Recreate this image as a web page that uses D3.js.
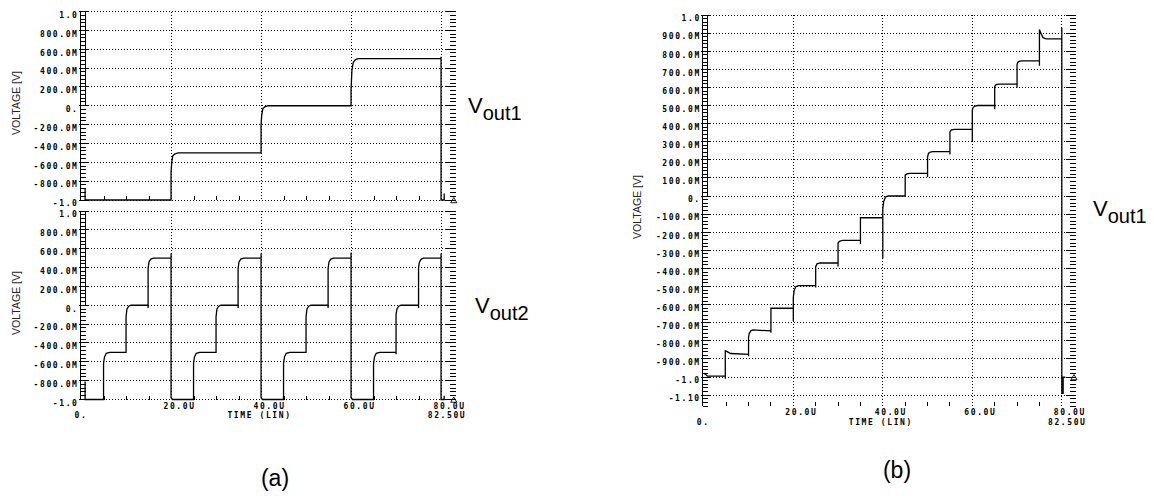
<!DOCTYPE html>
<html>
<head>
<meta charset="utf-8">
<script src="https://cdn.jsdelivr.net/npm/d3@7/dist/d3.min.js"></script>
<style>
  body { margin: 0; background: #fff; }
  svg { display: block; }
</style>
</head>
<body>
<div id="chart"></div>
<script>

// axis values and labels
const yTicksA = [1.0, 0.8, 0.6, 0.4, 0.2, 0, -0.2, -0.4, -0.6, -0.8, -1.0]
const yLabelsA = ['1.0', '800.0M', '600.0M', '400.0M', '200.0M', '0.', '-200.0M', '-400.0M', '-600.0M', '-800.0M', '-1.0']
const yTicksB = [1.0, 0.9, 0.8, 0.7, 0.6, 0.5, 0.4, 0.3, 0.2, 0.1, 0, -0.1, -0.2, -0.3, -0.4, -0.5, -0.6, -0.7, -0.8, -0.9, -1.0, -1.1]
const yLabelsB = ['1.0', '900.0M', '800.0M', '700.0M', '600.0M', '500.0M', '400.0M', '300.0M', '200.0M', '100.0M', '0.',
  '-100.0M', '-200.0M', '-300.0M', '-400.0M', '-500.0M', '-600.0M', '-700.0M', '-800.0M', '-900.0M', '-1.0', '-1.10']
const xTicks = [20, 40, 60, 80]
const xLabels = ['20.0U', '40.0U', '60.0U', '80.0U']
const xMinor = [5, 10, 15, 25, 30, 35, 45, 50, 55, 65, 70, 75]

// (a) Vout1 : time [us], voltage [V]
const vout1A = [
  [0.8, -0.88], [0.8, -1.0], [19.9, -1.0], [19.9, -0.7], [20.05, -0.6], [20.3, -0.53], [20.8, -0.51], [21.5, -0.5],
  [39.9, -0.5], [39.9, -0.2], [40.05, -0.1], [40.3, -0.03], [40.8, -0.01], [41.5, 0],
  [59.9, 0], [59.9, 0.17], [60.1, 0.38], [60.4, 0.46], [60.9, 0.49], [61.5, 0.5],
  [79.9, 0.5], [79.9, 0.52], [79.9, -1.0], [80.6, -1.0], [80.6, -0.93]
]

// (a) Vout2
const vout2A = [
  [0.8, -0.81], [0.8, -1.0], [4.9, -1.0], [4.9, -0.62], [5.1, -0.55], [5.5, -0.51], [6.3, -0.5],
  [9.9, -0.5], [9.9, -0.12], [10.1, -0.04], [10.5, -0.01], [11, 0],
  [14.8, 0], [14.8, -0.03], [14.8, 0.39], [15, 0.46], [15.4, 0.49], [16, 0.5],
  [19.9, 0.5], [19.9, 0.55], [19.9, -0.98], [20.2, -1.0],
  [24.9, -1.0], [24.9, -0.62], [25.1, -0.55], [25.5, -0.51], [26.3, -0.5],
  [29.9, -0.5], [29.9, -0.12], [30.1, -0.04], [30.5, -0.01], [31, 0],
  [34.8, 0], [34.8, -0.03], [34.8, 0.39], [35, 0.46], [35.4, 0.49], [36, 0.5],
  [39.9, 0.5], [39.9, 0.55], [39.9, -0.98], [40.2, -1.0],
  [44.9, -1.0], [44.9, -0.62], [45.1, -0.55], [45.5, -0.51], [46.3, -0.5],
  [49.9, -0.5], [49.9, -0.12], [50.1, -0.04], [50.5, -0.01], [51, 0],
  [54.8, 0], [54.8, -0.03], [54.8, 0.39], [55, 0.46], [55.4, 0.49], [56, 0.5],
  [59.9, 0.5], [59.9, 0.56], [59.9, -0.98], [60.2, -1.0],
  [64.9, -1.0], [64.9, -0.62], [65.1, -0.55], [65.5, -0.51], [66.3, -0.5],
  [69.9, -0.5], [69.9, -0.52], [69.9, -0.1], [70.1, -0.04], [70.5, -0.01], [71, 0],
  [74.9, 0], [74.9, -0.03], [74.9, 0.4], [75.1, 0.46], [75.5, 0.49], [76, 0.5],
  [79.9, 0.5], [79.9, 0.55], [79.9, -1.0], [80.6, -1.0], [80.6, -0.96]
]

// (b) Vout1 staircase
const vout1B = [
  [0, -0.98], [0.4, -0.985], [0.8, -0.995], [4.8, -0.995],
  [4.8, -1.01], [4.8, -0.855], [5.2, -0.86], [6, -0.87], [10, -0.875],
  [10, -0.885], [10, -0.78], [10.15, -0.76], [10.5, -0.745], [11, -0.74], [15, -0.745],
  [15, -0.755], [15, -0.62], [20, -0.62],
  [20, -0.69], [20, -0.56], [20.2, -0.52], [20.6, -0.5], [21.2, -0.495], [25, -0.495],
  [25, -0.505], [25, -0.39], [25.3, -0.375], [26, -0.37], [30, -0.37],
  [30, -0.39], [30, -0.26], [30.3, -0.25], [31, -0.245], [35, -0.245],
  [35, -0.265], [35, -0.12], [40, -0.12],
  [40, -0.345], [40, -0.07], [40.2, -0.03], [40.6, -0.005], [41.2, 0], [45, 0],
  [45, 0.115], [45.4, 0.122], [46, 0.125], [50, 0.125],
  [50, 0.105], [50, 0.215], [50.2, 0.235], [50.6, 0.243], [51.2, 0.245], [55, 0.245],
  [55, 0.23], [55, 0.355], [55.3, 0.365], [56, 0.368], [60, 0.368],
  [60, 0.3], [60, 0.475], [60.2, 0.49], [60.6, 0.497], [61.2, 0.5], [65, 0.5],
  [65, 0.48], [65, 0.605], [65.3, 0.615], [66, 0.618], [70, 0.618],
  [70, 0.6], [70, 0.727], [70.2, 0.74], [70.6, 0.745], [71.2, 0.747], [75, 0.747],
  [75, 0.72], [75, 0.92], [75.3, 0.9], [75.8, 0.875], [76.5, 0.868], [80, 0.868],
  [80, 0.93], [80, -1.09], [80.3, -1.09], [80.3, -1.0], [80.8, -1.0]
]

const tickFont = "bold 8px 'DejaVu Sans Mono', monospace"

const svg = d3.select('#chart')
  .append('svg')
  .attr('width', 1154)
  .attr('height', 496)

const drawPanel = (cfg) => {
  const { x, y, yTicks, yLabels, series, rulerStep, showX } = cfg
  const g = svg.append('g')
  const [yMin, yMax] = y.domain()
  const x0 = x(0), xr = x(82.5)
  const top = y(yMax), bottom = y(yMin)

  // dotted grid
  g.selectAll('.hgrid')
    .data(yTicks)
    .enter().append('line')
      .attr('x1', x0).attr('x2', xr)
      .attr('y1', d => y(d)).attr('y2', d => y(d))
      .attr('stroke', '#000')
      .attr('stroke-dasharray', '1,2')
      .attr('shape-rendering', 'crispEdges')

  g.selectAll('.vgrid')
    .data(xTicks)
    .enter().append('line')
      .attr('x1', d => x(d)).attr('x2', d => x(d))
      .attr('y1', top).attr('y2', bottom)
      .attr('stroke', '#000')
      .attr('stroke-dasharray', '1,2')
      .attr('shape-rendering', 'crispEdges')

  // bottom minor ticks
  g.selectAll('.xminor')
    .data(xMinor)
    .enter().append('line')
      .attr('x1', d => x(d)).attr('x2', d => x(d))
      .attr('y1', bottom - 4).attr('y2', bottom)
      .attr('stroke', '#000')
      .attr('shape-rendering', 'crispEdges')

  // left ruler
  const minor = d3.range(Math.round(yMin / rulerStep), Math.round(yMax / rulerStep) + 1)
    .map(i => i * rulerStep)
  const ruler = g.append('g')
    .attr('stroke', '#000')
    .attr('shape-rendering', 'crispEdges')
  ruler.append('line')
    .attr('x1', x0 - 1).attr('x2', x0 - 1)
    .attr('y1', top).attr('y2', bottom)
  ruler.append('line')
    .attr('x1', x0 + 4).attr('x2', x0 + 4)
    .attr('y1', top).attr('y2', y(0))
  ruler.selectAll('.rung')
    .data(minor)
    .enter().append('line')
      .attr('x1', x0 - 1).attr('x2', x0 + 4)
      .attr('y1', d => y(d)).attr('y2', d => y(d))
  ruler.selectAll('.major')
    .data(yTicks)
    .enter().append('line')
      .attr('x1', x0 - 3).attr('x2', x0 + 6)
      .attr('y1', d => y(d)).attr('y2', d => y(d))

  // right ruler
  const rruler = g.append('g')
    .attr('stroke', '#000')
    .attr('shape-rendering', 'crispEdges')
  rruler.selectAll('.rminor')
    .data(minor)
    .enter().append('line')
      .attr('x1', xr - 3).attr('x2', xr + 3)
      .attr('y1', d => y(d)).attr('y2', d => y(d))
  rruler.selectAll('.rmajor')
    .data(yTicks)
    .enter().append('line')
      .attr('x1', xr - 7).attr('x2', xr + 3)
      .attr('y1', d => y(d)).attr('y2', d => y(d))

  // y tick labels
  g.selectAll('.ylab')
    .data(yTicks)
    .enter().append('text')
      .attr('x', x0 - 3)
      .attr('y', d => y(d) + 6.3)
      .attr('text-anchor', 'end')
      .style('font', tickFont)
      .style('letter-spacing', '1.6px')
      .text((d, i) => yLabels[i])

  // signal
  const line = d3.line()
    .x(d => x(d[0]))
    .y(d => y(d[1]))
  g.append('path')
    .datum(series)
    .attr('d', line)
    .attr('fill', 'none')
    .attr('stroke', '#000')
    .attr('stroke-width', 1.3)

  // end marker
  g.append('path')
    .attr('d', d3.symbol(d3.symbolTriangle, 16))
    .attr('transform', `translate(${xr + 1}, ${y(-1.0) + 1})`)
    .attr('fill', 'none')
    .attr('stroke', '#000')
    .attr('stroke-width', 0.9)

  // voltage label
  g.append('text')
    .attr('transform', `translate(${cfg.vx}, ${cfg.vy}) rotate(-90)`)
    .attr('text-anchor', 'middle')
    .style('font', "10.5px 'Liberation Sans', Arial, sans-serif")
    .attr('fill', '#222')
    .text('VOLTAGE [V]')

  if (showX) {
    const row1 = bottom + 9.3
    const row2 = bottom + 18.5
    const xl = g.append('g')
      .style('font', tickFont)
      .style('letter-spacing', '1.6px')
    xl.selectAll('.xlab')
      .data(xTicks)
      .enter().append('text')
        .attr('x', d => x(d) - 8)
        .attr('y', row1)
        .text((d, i) => xLabels[i])
    xl.append('text').attr('x', x0 - 7).attr('y', row2).text('0.')
    xl.append('text').attr('x', x(40) - 2).attr('y', row2)
      .attr('text-anchor', 'middle').text('TIME (LIN)')
    xl.append('text').attr('x', xr - 25).attr('y', row2).text('82.50U')
  }
}

const xA = d3.scaleLinear().domain([0, 82.5]).range([81.5, 452.75])
const xB = d3.scaleLinear().domain([0, 82.5]).range([703.8, 1073])

drawPanel({
  x: xA, y: d3.scaleLinear().domain([-1.0, 1.0]).range([200, 11.5]),
  yTicks: yTicksA, yLabels: yLabelsA, series: vout1A, rulerStep: 0.04,
  showX: false, vx: 20, vy: 103
})
drawPanel({
  x: xA, y: d3.scaleLinear().domain([-1.0, 1.0]).range([399.5, 211]),
  yTicks: yTicksA, yLabels: yLabelsA, series: vout2A, rulerStep: 0.04,
  showX: true, vx: 20, vy: 303
})
drawPanel({
  x: xB, y: d3.scaleLinear().domain([-1.16, 1.0]).range([406, 15]),
  yTicks: yTicksB, yLabels: yLabelsB, series: vout1B, rulerStep: 0.02,
  showX: true, vx: 641, vy: 207
})

// signal names and panel captions
const label = (xp, yp, sub) => {
  const t = svg.append('text')
    .attr('x', xp).attr('y', yp)
    .style('font-family', "'Liberation Sans', Arial, sans-serif")
    .attr('fill', '#000')
  t.append('tspan').style('font-size', '22px').text('V')
  t.append('tspan').style('font-size', '20px').attr('dy', 7).text(sub)
}
label(468, 113, 'out1')
label(475, 313, 'out2')
label(1093, 216, 'out1')

svg.append('text')
  .attr('x', 275).attr('y', 486)
  .attr('text-anchor', 'middle')
  .style('font', "23px 'Liberation Sans', Arial, sans-serif")
  .text('(a)')
svg.append('text')
  .attr('x', 897).attr('y', 478)
  .attr('text-anchor', 'middle')
  .style('font', "23px 'Liberation Sans', Arial, sans-serif")
  .text('(b)')

</script>
</body>
</html>
